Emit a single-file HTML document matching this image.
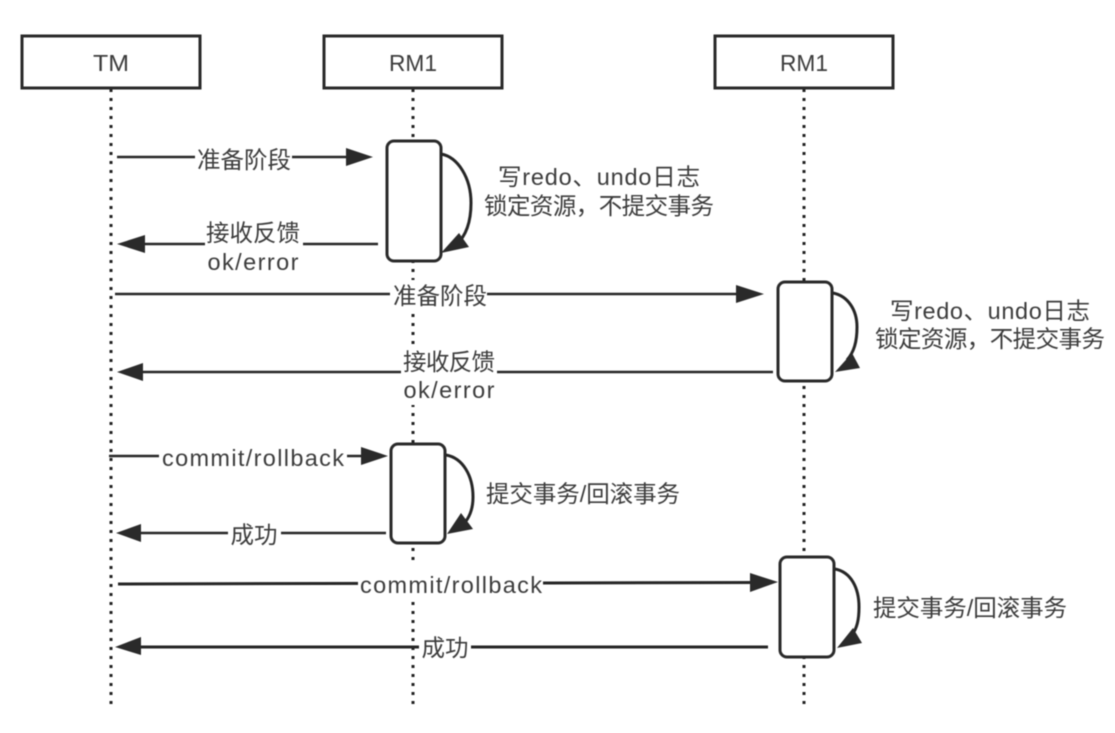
<!DOCTYPE html>
<html><head><meta charset="utf-8"><style>
html,body{margin:0;padding:0;background:#fff}
svg{display:block}
.g{filter:blur(.55px)}
text{font-family:"Liberation Sans","Noto Sans CJK SC",sans-serif;font-size:23.5px;fill:#3c3c3c;text-anchor:middle}
.l{stroke:#262626;stroke-width:2.5;fill:none}
.c{stroke:#262626;stroke-width:3;fill:none}
.d{stroke:#222;stroke-width:3;stroke-dasharray:3 6;fill:none}
.b{stroke:#2a2a2a;stroke-width:3;fill:#fff}
.t{stroke:none;fill:#fff}
.a{fill:#2a2a2a}
</style></head><body>
<svg width="1115" height="733" viewBox="0 0 1115 733">
<rect width="1115" height="733" fill="#fff"/>
<g class="g">
<line class="d" x1="111" y1="89" x2="111" y2="706"/>
<line class="d" x1="413" y1="89" x2="413" y2="706"/>
<line class="d" x1="804" y1="89" x2="804" y2="706"/>
<rect class="b" x="22" y="36" width="178" height="52"/>
<rect class="b" x="324" y="36" width="178" height="52"/>
<rect class="b" x="715" y="36" width="178" height="52"/>
<text x="111" y="71" textLength="36" lengthAdjust="spacingAndGlyphs">TM</text>
<text x="413" y="71" textLength="48" lengthAdjust="spacingAndGlyphs">RM1</text>
<text x="804" y="71" textLength="48" lengthAdjust="spacingAndGlyphs">RM1</text>

<line class="l" x1="117" y1="157" x2="350" y2="157"/><polygon class="a" points="373,157 346,148 346,166"/>
<rect class="t" x="195" y="146" width="97" height="26"/><text x="244" y="168">准备阶段</text>
<rect class="b" x="387" y="141" width="54" height="120" rx="7"/>
<path class="c" d="M441 154 C458 157 471 178 471 203 C471 222 466 236 456 245"/><polygon class="a" points="441,253 469,247 459,233"/>
<text x="599" y="185" textLength="202">写redo、undo日志</text>
<text x="599" y="214" textLength="230">锁定资源，不提交事务</text>
<line class="l" x1="378" y1="244" x2="140" y2="244"/><polygon class="a" points="117,244 145,235 145,253"/>
<rect class="t" x="205" y="220" width="98" height="54"/>
<text x="253" y="241" textLength="94">接收反馈</text>
<text x="253" y="270" textLength="91">ok/error</text>

<line class="l" x1="115" y1="294" x2="740" y2="294"/><polygon class="a" points="764,294 736,285 736,303"/>
<rect class="t" x="390" y="280" width="97" height="31"/><text x="440" y="304">准备阶段</text>
<rect class="b" x="778" y="282" width="54" height="99" rx="7"/>
<path class="c" d="M833 293 C848 296 857 310 857 327 C857 342 854 352 847 360"/><polygon class="a" points="835,372 860,368 852,353"/>
<text x="990" y="319" textLength="200">写redo、undo日志</text>
<text x="990" y="347" textLength="230">锁定资源，不提交事务</text>
<line class="l" x1="773" y1="372" x2="140" y2="372"/><polygon class="a" points="117,372 143,363 143,381"/>
<rect class="t" x="401" y="345" width="96" height="60"/>
<text x="449" y="370" textLength="92">接收反馈</text>
<text x="449" y="398" textLength="91">ok/error</text>

<line class="l" x1="109" y1="456" x2="368" y2="456"/><polygon class="a" points="388,456 361,447 361,465"/>
<rect class="t" x="159" y="444" width="188" height="28"/><text x="253" y="466" textLength="182">commit/rollback</text>
<rect class="b" x="391" y="444" width="54" height="99" rx="7"/>
<path class="c" d="M446 455 C463 458 473 476 473 497 C473 510 469 518 463 525"/><polygon class="a" points="447,534 473,529 461,513"/>
<text x="583" y="502" textLength="194">提交事务/回滚事务</text>
<line class="l" x1="386" y1="533" x2="140" y2="533"/><polygon class="a" points="116,533 141,524 141,542"/>
<rect class="t" x="228" y="522" width="53" height="26"/><text x="254" y="543">成功</text>

<line class="l" x1="118" y1="584" x2="755" y2="582.5" style="stroke-width:3"/><polygon class="a" points="778,582 750,573 750,592"/>
<rect class="t" x="358" y="565" width="185" height="37"/><text x="451" y="593" textLength="182">commit/rollback</text>
<rect class="b" x="780" y="557" width="54" height="100" rx="7"/>
<path class="c" d="M835 569 C851 572 859 588 859 607 C859 620 857 628 852 635"/><polygon class="a" points="837,648 862,643 853,628"/>
<text x="970" y="616" textLength="194">提交事务/回滚事务</text>
<line class="l" x1="768" y1="647" x2="140" y2="647" style="stroke-width:3"/><polygon class="a" points="115,647 141,637 141,655"/>
<rect class="t" x="419" y="636" width="52" height="26"/><text x="445" y="656">成功</text>
</g>
</svg>
</body></html>
